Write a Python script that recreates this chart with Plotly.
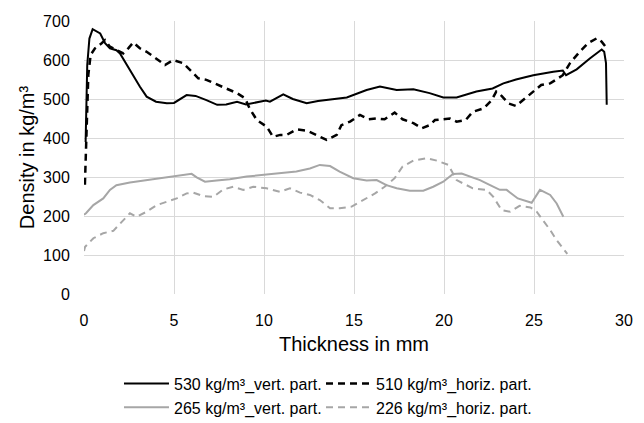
import plotly.graph_objects as go

# Black solid: 530 kg/m³_vert. part.
x_530v = [0.09, 0.18, 0.3, 0.48, 0.9, 1.17, 1.44, 1.8, 2.0, 2.55, 3.1, 3.48, 4.0, 4.6, 5.0, 5.7, 6.2, 6.8, 7.4,
          7.9, 8.5, 9.0, 9.4, 10.1, 10.33, 11.07, 11.6, 12.37, 13.0, 13.67, 14.6, 15.7, 16.44, 17.37, 18.3, 19.2,
          19.96, 20.7, 21.44, 21.8, 22.7, 23.3, 24.0, 24.96, 26.07, 26.6, 26.78, 27.37, 28.1, 28.76, 28.9, 29.0, 29.04]
y_530v = [390, 587, 655, 679, 668, 643, 630, 625, 617, 574, 532, 506, 493, 489, 490, 510, 508, 497, 485,
          486, 493, 486, 490, 496, 493, 512, 500, 489, 495, 499, 504, 523, 532, 523, 525, 515,
          504, 504, 513, 519, 527, 540, 550, 561, 570, 573, 561, 576, 604, 627, 621, 592, 485]

# Black dashed: 510 kg/m³_horiz. part.
x_510h = [0.05, 0.15, 0.24, 0.37, 0.61, 0.98, 1.17, 1.44, 1.8, 2.18, 2.46, 2.74, 3.1, 3.48, 4.0, 4.5, 4.96, 5.5,
          5.9, 6.35, 6.8, 7.4, 7.9, 8.5, 8.94, 9.2, 9.6, 10.15, 10.5, 10.9, 11.26, 11.8, 12.37, 12.9, 13.48,
          14.04, 14.3, 14.78, 15.33, 15.8, 16.26, 16.7, 17.26, 17.7, 18.3, 18.76, 19.2, 19.5, 19.87, 20.33,
          20.7, 21.2, 21.6, 22.2, 22.65, 22.9, 23.2, 23.57, 24.0, 24.5, 24.96, 25.4, 25.9, 26.2, 26.6, 27.0,
          27.46, 28.0, 28.5, 28.76, 29.04]
y_510h = [280, 459, 562, 613, 630, 643, 651, 634, 625, 617, 630, 645, 630, 621, 604, 587, 600, 592,
          574, 553, 549, 536, 527, 515, 502, 476, 446, 429, 403, 408, 408, 422, 419, 408, 395,
          408, 433, 442, 459, 448, 450, 448, 465, 448, 438, 425, 433, 446, 448, 450,
          442, 446, 467, 476, 497, 519, 508, 489, 482, 502, 519, 536, 540, 549, 561, 592,
          617, 643, 656, 647, 630]

# Gray solid: 265 kg/m³_vert. part.
x_265v = [0.0, 0.11, 0.52, 1.07, 1.44, 1.8, 2.55, 3.3, 4.0, 4.78, 5.33, 5.98, 6.26, 6.72, 7.37, 8.1, 9.04, 9.96,
          10.9, 11.8, 12.55, 13.1, 13.67, 14.2, 14.96, 15.7, 16.26, 16.8, 17.37, 18.1, 18.85, 19.4, 19.96,
          20.5, 20.98, 21.44, 22.0, 22.56, 23.1, 23.48, 24.1, 24.87, 25.33, 25.9, 26.26, 26.63]
y_265v = [203, 207, 228, 245, 267, 279, 286, 291, 294, 299, 303, 308, 299, 288, 291, 294, 301, 305,
          309, 314, 322, 331, 328, 314, 297, 291, 292, 279, 271, 265, 265, 275, 288,
          308, 309, 301, 292, 279, 267, 267, 245, 234, 267, 254, 232, 198]

# Gray dashed: 226 kg/m³_horiz. part.
x_226h = [0.0, 0.06, 0.52, 1.07, 1.63, 2.18, 2.55, 2.93, 3.48, 4.04, 4.6, 5.15, 5.7, 6.07, 6.63, 7.18, 7.74, 8.3,
          8.85, 9.4, 10.15, 10.9, 11.44, 12.0, 12.55, 13.1, 13.67, 14.2, 14.87, 15.5, 16.17, 16.7, 17.26, 17.7,
          18.3, 19.04, 19.6, 20.24, 20.7, 21.26, 21.6, 22.37, 22.74, 23.2, 23.67, 24.2, 24.8, 25.15, 25.5,
          25.9, 26.26, 26.63, 26.85]
y_226h = [110, 121, 143, 156, 162, 190, 207, 198, 211, 228, 237, 245, 258, 260, 251, 249, 268, 275,
          267, 275, 271, 262, 271, 260, 254, 241, 220, 220, 224, 241, 258, 275, 297, 327,
          342, 348, 342, 331, 292, 279, 271, 267, 249, 215, 211, 226, 222, 211, 190,
          164, 138, 117, 103]

series_names = ["530 kg/m³_vert. part.", "510 kg/m³_horiz. part.",
                "265 kg/m³_vert. part.", "226 kg/m³_horiz. part."]

FONT = "Liberation Sans, Arial, sans-serif"
BLACK = "#000000"
GRAY = "#a6a6a6"

fig = go.Figure()
fig.add_trace(go.Scatter(x=x_530v, y=y_530v, mode="lines", name=series_names[0], legend="legend",
                         line=dict(color=BLACK, width=2)))
fig.add_trace(go.Scatter(x=x_510h, y=y_510h, mode="lines", name=series_names[1], legend="legend2",
                         line=dict(color=BLACK, width=2.5, dash="7px,5px")))
fig.add_trace(go.Scatter(x=x_265v, y=y_265v, mode="lines", name=series_names[2], legend="legend",
                         line=dict(color=GRAY, width=2)))
fig.add_trace(go.Scatter(x=x_226h, y=y_226h, mode="lines", name=series_names[3], legend="legend2",
                         line=dict(color=GRAY, width=2, dash="7px,5px")))

# The page body adds an 8px margin, so the figure is sized to the remaining area.
W, H = 636, 415
legend_common = dict(orientation="v", yref="container", y=0.136, yanchor="top",
                     xanchor="left",
                     font=dict(size=16), traceorder="normal", tracegroupgap=0,
                     itemwidth=45, bgcolor="rgba(0,0,0,0)")

fig.update_layout(
    width=W, height=H,
    margin=dict(l=76, r=20, t=13, b=129),
    paper_bgcolor="white", plot_bgcolor="white",
    font=dict(family=FONT, color="#000000", size=16),
    xaxis=dict(range=[0, 30], dtick=5, showgrid=True, gridcolor="#d9d9d9", gridwidth=1,
               zeroline=False, showline=False, automargin=False,
               ticks="outside", ticklen=12, tickcolor="rgba(0,0,0,0)", tickfont=dict(size=16),
               title=dict(text="Thickness in mm", font=dict(size=20), standoff=8)),
    yaxis=dict(range=[0, 700], dtick=100, showgrid=True, gridcolor="#d9d9d9", gridwidth=1,
               zeroline=False, showline=False, automargin=False,
               ticks="outside", ticklen=10, tickcolor="rgba(0,0,0,0)", tickfont=dict(size=16),
               title=dict(text="Density in kg/m³", font=dict(size=20), standoff=3)),
    legend=dict(x=0.0648, **legend_common),
    legend2=dict(x=0.4389, **legend_common),
    showlegend=True,
)

fig.write_html("out.html")
